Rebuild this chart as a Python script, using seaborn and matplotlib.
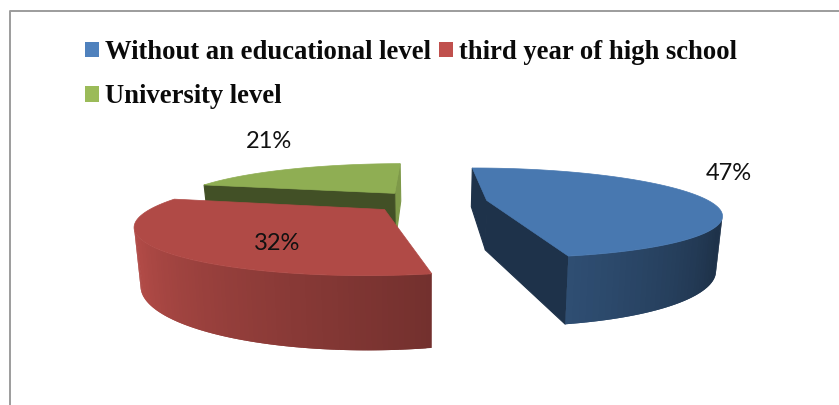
import numpy as np
import matplotlib
matplotlib.use("Agg")
import matplotlib.pyplot as plt
from matplotlib.patches import Patch, Polygon
import seaborn as sns

# Survey shares by education level
categories = ["Without an educational level", "third year of high school", "University level"]
shares = [47, 32, 21]
label_positions = [(729, 173), (277, 243), (269, 142)]

# Colours
legend_colors = ["#4f81bd", "#c0504d", "#9bbb59"]
top_colors = ["#4878b0", "#b04a46", "#8fae53"]
border_color = "#9c9c9c"

# Projection of the pie plane onto the canvas
CX, CY = 429.0, 201.5
RX, RY = 223.0, 42.0
PERSPECTIVE = 0.28
DEPTH = 50.0
CONVERGE = 0.978
EXPLODE = 0.262
START_ANGLE = -0.6


def project(u, v):
    w = 1 + PERSPECTIVE * v
    return CX + RX * u / w, CY - RY * v / w


def extrude(u, v):
    x, y = project(u, v)
    w = 1 + PERSPECTIVE * v
    return CX + (x - CX) * CONVERGE, y + DEPTH / w


def shade(color, factor):
    return tuple(min(1, c * factor) for c in matplotlib.colors.to_rgb(color))


def arc_shade(phi):
    # Side walls darken as they turn towards the right of the viewer
    return float(np.clip(0.66 + ((phi % 360) - 170) * 0.005, 0.42, 1.0))


def is_front_facing(p, q, q2, p2):
    # Canvas y points down, so a wall seen from the front winds clockwise here
    pts = np.array([p, q, q2, p2])
    x, y = pts[:, 0], pts[:, 1]
    area = 0.5 * np.sum(x * np.roll(y, -1) - np.roll(x, -1) * y)
    return area < 0


def draw_wall(ax, a, b, color, z, extend=None):
    p, q = project(*a), project(*b)
    q2, p2 = extrude(*b), extrude(*a)
    if not is_front_facing(p, q, q2, p2):
        return
    if extend is not None:
        # Reach over the next strip so no seams show between neighbours
        q, q2 = project(*extend), extrude(*extend)
        ax.add_patch(Polygon([p, q, q2, p2], closed=True, facecolor=color,
                             edgecolor="none", linewidth=0, zorder=z))
    else:
        # Flat cut faces get a hairline edge to close the joint at the apex
        ax.add_patch(Polygon([p, q, q2, p2], closed=True, facecolor=color,
                             edgecolor=color, linewidth=0.8, zorder=z))


sns.set_theme(style="white")
plt.rcParams["font.family"] = ["Lato", "DejaVu Sans"]

fig = plt.figure(figsize=(8.39, 4.05), dpi=100)
ax = fig.add_axes([0, 0, 1, 1])
ax.set_xlim(0, 839)
ax.set_ylim(405, 0)
ax.axis("off")

# Outer frame, open at the right and bottom edges
ax.plot([9.5, 9.5, 839], [405, 11, 11], color=border_color, lw=1.4, zorder=1)

# Slice spans follow the shares, clockwise from the top
total = sum(shares)
spans = [s / total * 360 for s in shares]
starts = START_ANGLE + np.concatenate(([0], np.cumsum(spans)[:-1]))

# Painted back to front: green, red, blue
wall_factors = {0: (0.42, 0.42), 1: (0.68, 0.68), 2: (0.88, 0.46)}
for z, i in zip((2, 3, 4), (2, 1, 0)):
    start, span = starts[i], spans[i]
    mid = np.radians(start + span / 2)
    ou, ov = EXPLODE * np.sin(mid), EXPLODE * np.cos(mid)
    phis = np.linspace(start, start + span, 121)
    arc = [(ou + np.sin(np.radians(p)), ov + np.cos(np.radians(p))) for p in phis]
    apex = (ou, ov)
    base = top_colors[i]

    # Straight cut faces
    closing, opening = wall_factors[i]
    draw_wall(ax, arc[-1], apex, shade(base, closing), z)
    draw_wall(ax, apex, arc[0], shade(base, opening), z)

    # Curved rim, one narrow strip per step so the shading runs smoothly
    for j in range(len(arc) - 1):
        draw_wall(ax, arc[j], arc[j + 1],
                  shade(base, arc_shade((phis[j] + phis[j + 1]) / 2)), z,
                  extend=arc[min(j + 2, len(arc) - 1)])

    # Top face
    outline = [project(*apex)] + [project(*pt) for pt in arc]
    ax.add_patch(Polygon(outline, closed=True, facecolor=base, edgecolor=base,
                         linewidth=0.5, zorder=z + 0.5))

for share, (lx, ly) in zip(shares, label_positions):
    ax.text(lx, ly, f"{share}%", ha="center", va="center", fontsize=17,
            color="#111111", zorder=10)

# Column-first legend order puts the third entry under the first
palette = sns.color_palette(legend_colors)
order = [0, 2, 1]
handles = [Patch(facecolor=palette[i], edgecolor="none", label=categories[i]) for i in order]
ax.legend(handles=handles, ncols=2, loc="upper left", bbox_to_anchor=(85 / 839, 1 - 40 / 405),
          frameon=False, borderaxespad=0, borderpad=0, handlelength=0.525, handleheight=0.525,
          handletextpad=0.22, columnspacing=0.3, labelspacing=0.73,
          prop={"family": "Liberation Serif", "weight": "bold", "size": 19.2},
          labelcolor="#0a0a0a")

fig.savefig("out.png", dpi=100)
